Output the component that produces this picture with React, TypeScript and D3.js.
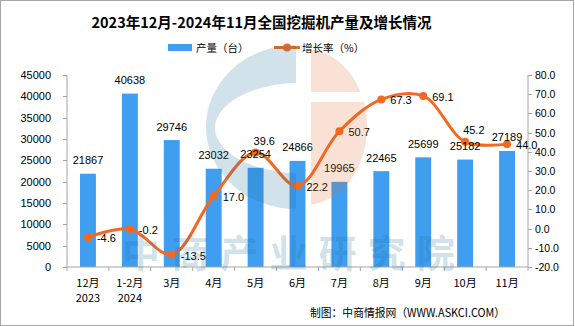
import React from "react";
import * as d3 from "d3";

const W = 575;
const H = 326;

const categories = ["12月", "1-2月", "3月", "4月", "5月", "6月", "7月", "8月", "9月", "10月", "11月"];
const yearLabels = ["2023", "2024", "", "", "", "", "", "", "", "", ""];
const production = [21867, 40638, 29746, 23032, 23254, 24866, 19965, 22465, 25699, 25182, 27189];
const growth = [-4.6, -0.2, -13.5, 17.0, 39.6, 22.2, 50.7, 67.3, 69.1, 45.2, 44.0];
const growthLabelPos = ["right", "right", "right", "right", "above", "right", "right", "right", "right", "above", "right"];
const leftTicks = [0, 5000, 10000, 15000, 20000, 25000, 30000, 35000, 40000, 45000];
const rightTicks = [-20, -10, 0, 10, 20, 30, 40, 50, 60, 70, 80];

const TITLE = "2023年12月-2024年11月全国挖掘机产量及增长情况";
const LEGEND_BAR = "产量（台）";
const LEGEND_LINE = "增长率（%）";
const SOURCE = "制图：中商情报网（WWW.ASKCI.COM）";
const WATERMARK = "中商产业研究院";

const BAR_COLOR = "#409EF0";
const LINE_COLOR = "#F4691F";
const AXIS_COLOR = "#A6A6A6";
const CJK = "'Noto Sans CJK SC', 'Noto Sans', sans-serif";
const NUM = "'Liberation Sans', Arial, sans-serif";

export default function App() {
  const left = 67;
  const right = 528;
  const top = 75;
  const bottom = 267;

  const x = d3.scaleBand<string>().domain(categories).range([left, right]).padding(0);
  const bw = x.bandwidth();
  const barW = bw * 0.38;
  const yL = d3.scaleLinear().domain([0, 45000]).range([bottom, top]);
  const yR = d3.scaleLinear().domain([-20, 80]).range([bottom, top]);
  const cx = (i: number) => (x(categories[i]) as number) + bw / 2;

  const line = d3
    .line<number>()
    .x((_, i) => cx(i))
    .y((d) => yR(d))
    .curve(d3.curveCatmullRom.alpha(0.5));

  const boundaries = categories.map((c) => x(c) as number).concat([right]);

  return (
    <svg
      width={W}
      height={H}
      viewBox={`0 0 ${W} ${H}`}
      style={{ position: "absolute", left: 0, top: 0, background: "#fff" }}
    >
      <defs>
        <clipPath id="clipBlue">
          <rect x={150} y={0} width={146} height={300} />
        </clipPath>
        <clipPath id="clipOrange">
          <rect x={311} y={0} width={100} height={92} />
          <rect x={311} y={102} width={100} height={200} />
        </clipPath>
      </defs>
      <rect x={0} y={0} width={W} height={H} fill="#fff" />
      <rect x={0.5} y={0.5} width={573} height={H - 1} fill="none" stroke={AXIS_COLOR} strokeWidth={1} />

      {/* title */}
      <text x={261.5} y={21} textAnchor="middle" dominantBaseline="central" fontFamily={CJK} fontWeight="bold" fontSize={14.5} fill="#000">
        {TITLE}
      </text>

      {/* legend */}
      <rect x={168} y={44} width={24} height={7} fill={BAR_COLOR} />
      <text x={196} y={47.5} dominantBaseline="central" fontFamily={CJK} fontSize={10.5} fill="#000">
        {LEGEND_BAR}
      </text>
      <line x1={274} x2={300} y1={47.5} y2={47.5} stroke={LINE_COLOR} strokeWidth={3} />
      <circle cx={287} cy={47.5} r={4} fill={LINE_COLOR} />
      <text x={302} y={47.5} dominantBaseline="central" fontFamily={CJK} fontSize={10.5} fill="#000">
        {LEGEND_LINE}
      </text>

      {/* bars */}
      {production.map((v, i) => (
        <rect key={"b" + i} x={cx(i) - barW / 2} y={yL(v)} width={barW} height={bottom - yL(v)} fill={BAR_COLOR} />
      ))}

      {/* axes */}
      <line x1={left} x2={left} y1={top} y2={bottom} stroke={AXIS_COLOR} />
      {leftTicks.map((t) => (
        <g key={"lt" + t}>
          <line x1={left - 4} x2={left} y1={Math.round(yL(t)) + 0.5} y2={Math.round(yL(t)) + 0.5} stroke={AXIS_COLOR} />
          <text x={51} y={yL(t)} textAnchor="end" dominantBaseline="central" fontFamily={NUM} fontSize={11} fill="#000">
            {t}
          </text>
        </g>
      ))}
      <line x1={right} x2={right} y1={top} y2={bottom} stroke={AXIS_COLOR} />
      {rightTicks.map((t) => (
        <g key={"rt" + t}>
          <line x1={right} x2={right + 4} y1={Math.round(yR(t)) + 0.5} y2={Math.round(yR(t)) + 0.5} stroke={AXIS_COLOR} />
          <text x={535} y={yR(t)} dominantBaseline="central" fontFamily={NUM} fontSize={10.5} fill="#000">
            {t.toFixed(1)}
          </text>
        </g>
      ))}
      <line x1={left} x2={right} y1={bottom} y2={bottom} stroke={AXIS_COLOR} />
      {boundaries.map((b, i) => (
        <line key={"xt" + i} x1={b} x2={b} y1={bottom} y2={bottom + 4} stroke={AXIS_COLOR} />
      ))}
      {categories.map((c, i) => (
        <g key={"xl" + i}>
          <text x={cx(i)} y={282} textAnchor="middle" dominantBaseline="central" fontFamily={CJK} fontSize={11} fill="#000">
            {c}
          </text>
          {yearLabels[i] && (
            <text x={cx(i)} y={297} textAnchor="middle" dominantBaseline="central" fontFamily={CJK} fontSize={11} fill="#000">
              {yearLabels[i]}
            </text>
          )}
        </g>
      ))}

      {/* line */}
      <path d={line(growth) || ""} fill="none" stroke={LINE_COLOR} strokeWidth={3} />
      {growth.map((v, i) => (
        <circle key={"p" + i} cx={cx(i)} cy={yR(v)} r={4} fill={LINE_COLOR} />
      ))}

      {/* bar labels */}
      {production.map((v, i) => (
        <text key={"bl" + i} x={cx(i)} y={yL(v) - 13.5} textAnchor="middle" dominantBaseline="central" fontFamily={NUM} fontSize={11} fill="#000">
          {v}
        </text>
      ))}

      {/* line labels */}
      {growth.map((v, i) => {
        const above = growthLabelPos[i] === "above";
        return (
          <text
            key={"gl" + i}
            x={above ? cx(i) - 2 : cx(i) + 9}
            y={above ? yR(v) - 11.5 : yR(v) + 1}
            dominantBaseline="central"
            fontFamily={NUM}
            fontSize={11}
            fill="#000"
          >
            {v.toFixed(1)}
          </text>
        );
      })}

      {/* watermark */}
      <g opacity={0.2} style={{ pointerEvents: "none" }}>
        <path
          clipPath="url(#clipBlue)"
          fillRule="evenodd"
          fill="#1F6E9C"
          d="M296,45 A90,82 0 0,0 296,209 Z M215,128 A85,45 0 1,0 385,128 A85,45 0 1,0 215,128 Z"
        />
        <ellipse clipPath="url(#clipOrange)" cx={305} cy={127} rx={62} ry={78} fill="#E0682E" />
        <text
          x={122}
          y={267}
          textLength={333}
          lengthAdjust="spacing"
          fontFamily={CJK}
          fontWeight="bold"
          fontSize={38}
          fill="#1F6E9C"
        >
          {WATERMARK}
        </text>
      </g>

      {/* source */}
      <text x={505} y={312} textAnchor="end" dominantBaseline="central" fontFamily={CJK} fontSize={11.5} fill="#000" textLength={195} lengthAdjust="spacingAndGlyphs">
        {SOURCE}
      </text>
    </svg>
  );
}
